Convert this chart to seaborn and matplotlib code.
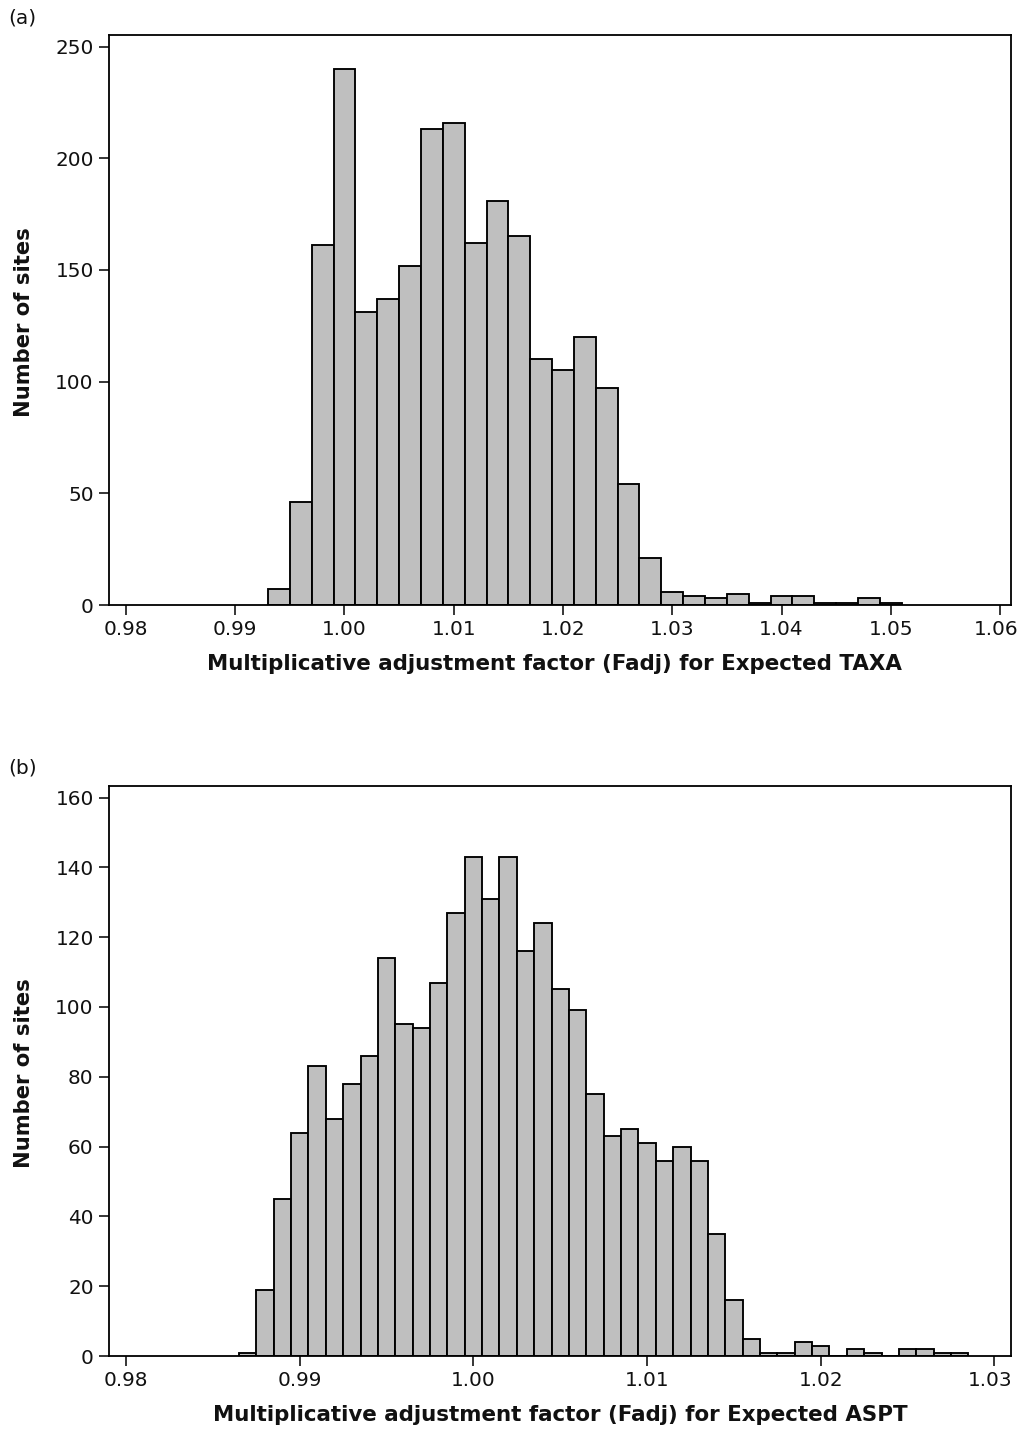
import numpy as np
import pandas as pd
import matplotlib
matplotlib.use("Agg")
import matplotlib.pyplot as plt
import matplotlib.transforms as mtransforms
import seaborn as sns

# Panel (a): Fadj for Expected TAXA, bins of width 0.002 centred on 0.994 ... 1.050
taxa_bin_centres = np.round(np.arange(0.994, 1.0505, 0.002), 3)
taxa_counts = [7, 46, 161, 240, 131, 137, 152, 213, 216, 162, 181, 165,
               110, 105, 120, 97, 54, 21,
               6, 4, 3, 5, 1, 4, 4, 1, 1, 3, 1]
taxa_xticks = [0.98, 0.99, 1.00, 1.01, 1.02, 1.03, 1.04, 1.05, 1.06]
taxa_yticks = [0, 50, 100, 150, 200, 250]

# Panel (b): Fadj for Expected ASPT, bins of width 0.001 centred on 0.987 ... 1.028
aspt_bin_centres = np.round(np.arange(0.987, 1.0285, 0.001), 3)
aspt_counts = [1, 19, 45, 64, 83, 68, 78,
               86, 114, 95, 94, 107, 127, 143, 131, 143, 116, 124, 105, 99,
               75, 63, 65, 61, 56, 60, 56, 35, 16,
               5, 1, 1, 4, 3, 0, 2, 1, 0, 2, 2, 1, 1]
aspt_xticks = [0.98, 0.99, 1.00, 1.01, 1.02, 1.03]
aspt_yticks = [0, 20, 40, 60, 80, 100, 120, 140, 160]

xlabel_taxa = "Multiplicative adjustment factor (Fadj) for Expected TAXA"
xlabel_aspt = "Multiplicative adjustment factor (Fadj) for Expected ASPT"
ylabel = "Number of sites"

sns.set_theme(style="white")
plt.rcParams["font.family"] = ["DejaVu Sans"]

W, H = 1020, 1433
fig = plt.figure(figsize=(W / 100, H / 100), dpi=100)
fig.patch.set_facecolor("white")

left_px, right_px = 109, 1011
ax_a = fig.add_axes([left_px / W, 1 - 605 / H, (right_px - left_px) / W, 570 / H])
ax_b = fig.add_axes([left_px / W, 1 - 1356 / H, (right_px - left_px) / W, 570 / H])

bar_fill = "#bfbfbf"


def draw_panel(ax, centres, counts, width, xlim, ylim, xticks, yticks, xlabel, xlabel_x):
    centres = np.asarray(centres, dtype=float)
    df = pd.DataFrame({"fadj": centres, "sites": np.asarray(counts, dtype=float)})
    sns.histplot(data=df, x="fadj", weights="sites", binwidth=width,
                 binrange=(centres[0] - width / 2, centres[-1] + width / 2), ax=ax,
                 color=bar_fill, edgecolor="black", linewidth=1.35, alpha=1.0)
    ax.set_xlim(*xlim)
    ax.set_ylim(*ylim)
    ax.set_xticks(xticks)
    ax.set_xticklabels([f"{t:.2f}" for t in xticks])
    ax.set_yticks(yticks)
    ax.set_yticklabels([str(t) for t in yticks])
    ax.tick_params(axis="both", which="major", direction="out", length=7,
                   width=1.1, color="black", labelsize=14.4, pad=4,
                   bottom=True, left=True, labelcolor="#111111")
    for sp in ax.spines.values():
        sp.set_visible(True)
        sp.set_linewidth(1.3)
        sp.set_color("black")
    ax.set_xlabel(xlabel, fontsize=15.4, fontweight="bold", color="#111111")
    ax.xaxis.set_label_coords(xlabel_x, -0.1035)
    ax.xaxis.label.set_va("center")
    ax.set_ylabel(ylabel, fontsize=15.2, fontweight="bold", color="#111111")
    ax.yaxis.set_label_coords(-0.0942, 0.4956)
    ax.yaxis.label.set_va("center")
    ax.grid(False)


draw_panel(ax_a, taxa_bin_centres, taxa_counts, 0.002,
           (0.97845, 1.0610), (0, 255.2), taxa_xticks, taxa_yticks,
           xlabel_taxa, 0.494)
draw_panel(ax_b, aspt_bin_centres, aspt_counts, 0.001,
           (0.97902, 1.03095), (0, 163.3), aspt_xticks, aspt_yticks,
           xlabel_aspt, 0.5)

# keep the right-most tick labels inside the figure edge
nudge = mtransforms.ScaledTranslation(-4 / 100, 0, fig.dpi_scale_trans)
for ax in (ax_a, ax_b):
    last = ax.get_xticklabels()[-1]
    last.set_transform(last.get_transform() + nudge)

fig.text(8 / W, 1 - 18 / H, "(a)", fontsize=14.5, va="center", ha="left", color="#111111")
fig.text(8 / W, 1 - 768 / H, "(b)", fontsize=14.5, va="center", ha="left", color="#111111")

fig.savefig("out.png", dpi=100, facecolor="white")
